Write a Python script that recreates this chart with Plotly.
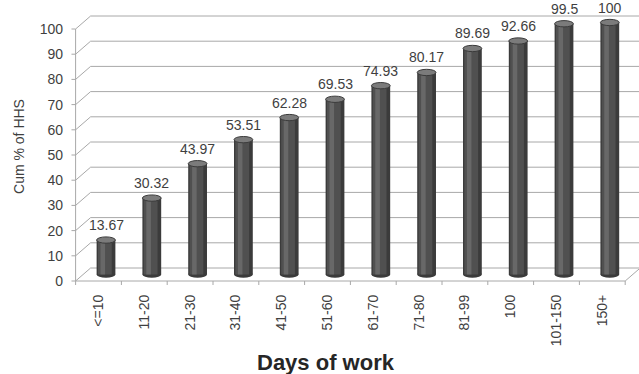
import plotly.graph_objects as go

# Cumulative share of households by days of work
categories = ["<=10", "11-20", "21-30", "31-40", "41-50", "51-60",
              "61-70", "71-80", "81-99", "100", "101-150", "150+"]
cum_pct = [13.67, 30.32, 43.97, 53.51, 62.28, 69.53,
           74.93, 80.17, 89.69, 92.66, 99.5, 100]
y_ticks = list(range(0, 101, 10))

W, H = 639, 374
# plot area in pixels
L, R, T, B = 70, 639, 8, 285
# mid-depth plane: category 0 centre and pixel per category / per unit
CX0, PX_CAT = 106.0, 45.8
Y0_MID, PX_UNIT = 274.5, 2.52
Y0_FRONT = 281.0
DEPTH_X = 7.5 / PX_CAT      # half-depth offset in category units
DEPTH_Y = 6.5 / PX_UNIT     # half-depth offset in value units

x_rng = [(L - CX0) / PX_CAT, (R - CX0) / PX_CAT]
y_rng = [(Y0_MID - B) / PX_UNIT, (Y0_MID - T) / PX_UNIT]
y2_rng = [(Y0_FRONT - B) / PX_UNIT, (Y0_FRONT - T) / PX_UNIT]

n = len(categories)
xs = list(range(n))
front_left = -0.5 - DEPTH_X
front_right = front_left + n
back_left = front_left + 2 * DEPTH_X
back_right = front_right + 2 * DEPTH_X

GRID = "#a8a8a8"
TXT = "#3f3f3f"
FONT = "Liberation Sans, Arial, sans-serif"

fig = go.Figure()

# cylinder body: dark shell, mid tone and left highlight
bw = 0.41
for width, off, col in [(bw, -bw / 2, "#3b3b3b"),
                        (0.30, -0.175, "#505050"),
                        (0.10, -0.12, "#686868")]:
    fig.add_trace(go.Bar(x=xs, y=cum_pct, width=width, offset=off,
                         marker=dict(color=col, line=dict(width=0)),
                         hoverinfo="skip", showlegend=False))

# an invisible trace on the front axis to carry the y tick labels
fig.add_trace(go.Scatter(x=[xs[0]], y=[0], yaxis="y2", mode="markers",
                         marker=dict(opacity=0), hoverinfo="skip",
                         showlegend=False))

shapes = []
line_style = dict(color=GRID, width=1)
for t in y_ticks:
    # slanted connector from front axis to back wall, then the back gridline
    shapes.append(dict(type="line", xref="x", yref="y", layer="below",
                       x0=front_left, y0=t - DEPTH_Y,
                       x1=back_left, y1=t + DEPTH_Y, line=line_style))
    shapes.append(dict(type="line", xref="x", yref="y", layer="below",
                       x0=back_left, y0=t + DEPTH_Y,
                       x1=back_right, y1=t + DEPTH_Y, line=line_style))
# front vertical axis
shapes.append(dict(type="line", xref="x", yref="y", layer="below",
                   x0=front_left, y0=-DEPTH_Y,
                   x1=front_left, y1=y_ticks[-1] - DEPTH_Y, line=line_style))
# floor front edge and right edge
shapes.append(dict(type="line", xref="x", yref="y", layer="below",
                   x0=front_left, y0=-DEPTH_Y,
                   x1=front_right, y1=-DEPTH_Y, line=line_style))
shapes.append(dict(type="line", xref="x", yref="y", layer="below",
                   x0=front_right, y0=-DEPTH_Y,
                   x1=back_right, y1=DEPTH_Y, line=line_style))
# category boundary ticks on the front edge
for k in range(n + 1):
    xb = front_left + k
    shapes.append(dict(type="line", xref="x", yref="y", layer="below",
                       x0=xb, y0=-DEPTH_Y, x1=xb, y1=-DEPTH_Y - 1.6,
                       line=line_style))
# y ticks on the front axis
for t in y_ticks:
    shapes.append(dict(type="line", xref="x", yref="y", layer="below",
                       x0=front_left - 0.09, y0=t - DEPTH_Y,
                       x1=front_left, y1=t - DEPTH_Y, line=line_style))

ell = 1.25
for x, v in zip(xs, cum_pct):
    # rounded base of each cylinder
    shapes.append(dict(type="circle", xref="x", yref="y", layer="below",
                       x0=x - bw / 2, x1=x + bw / 2, y0=-ell, y1=ell,
                       fillcolor="#3b3b3b", line=dict(width=0)))
    # top cap
    shapes.append(dict(type="circle", xref="x", yref="y", layer="above",
                       x0=x - bw / 2, x1=x + bw / 2, y0=v - ell, y1=v + ell,
                       fillcolor="#7b7b7b", line=dict(color="#3b3b3b", width=1)))

annotations = []
for x, v in zip(xs, cum_pct):
    annotations.append(dict(x=x, y=v, xref="x", yref="y", text=f"{v:g}",
                            showarrow=False, yshift=15,
                            font=dict(family=FONT, size=14, color=TXT)))
# x axis title below the category labels
annotations.append(dict(x=(326 - L) / (R - L), y=-(362 - B) / (B - T),
                        xref="paper", yref="paper", xanchor="center",
                        yanchor="middle", text="<b>Days of work</b>",
                        showarrow=False,
                        font=dict(family=FONT, size=22, color="#262626")))

fig.update_layout(
    width=W, height=H,
    margin=dict(l=L, r=W - R, t=T, b=H - B, pad=0),
    paper_bgcolor="white", plot_bgcolor="white",
    barmode="overlay",
    font=dict(family=FONT, size=14, color=TXT),
    xaxis=dict(range=x_rng, tickmode="array",
               tickvals=[x - DEPTH_X for x in xs], ticktext=categories,
               tickangle=-90, ticks="", ticklabelstandoff=6,
               showgrid=False, zeroline=False, showline=False,
               tickfont=dict(family=FONT, size=14, color=TXT)),
    yaxis=dict(range=y_rng, showgrid=False, zeroline=False,
               showticklabels=False, showline=False),
    yaxis2=dict(range=y2_rng, overlaying="y", side="left", anchor="free",
                position=(75 - L) / (R - L), tickmode="array",
                tickvals=y_ticks, ticks="", showgrid=False, zeroline=False,
                showline=False, ticklabelstandoff=12,
                tickfont=dict(family=FONT, size=14, color=TXT),
                title=dict(text="Cum % of HHS", standoff=10,
                           font=dict(family=FONT, size=14, color=TXT))),
    shapes=shapes,
    annotations=annotations,
)

fig.write_html("out.html")
